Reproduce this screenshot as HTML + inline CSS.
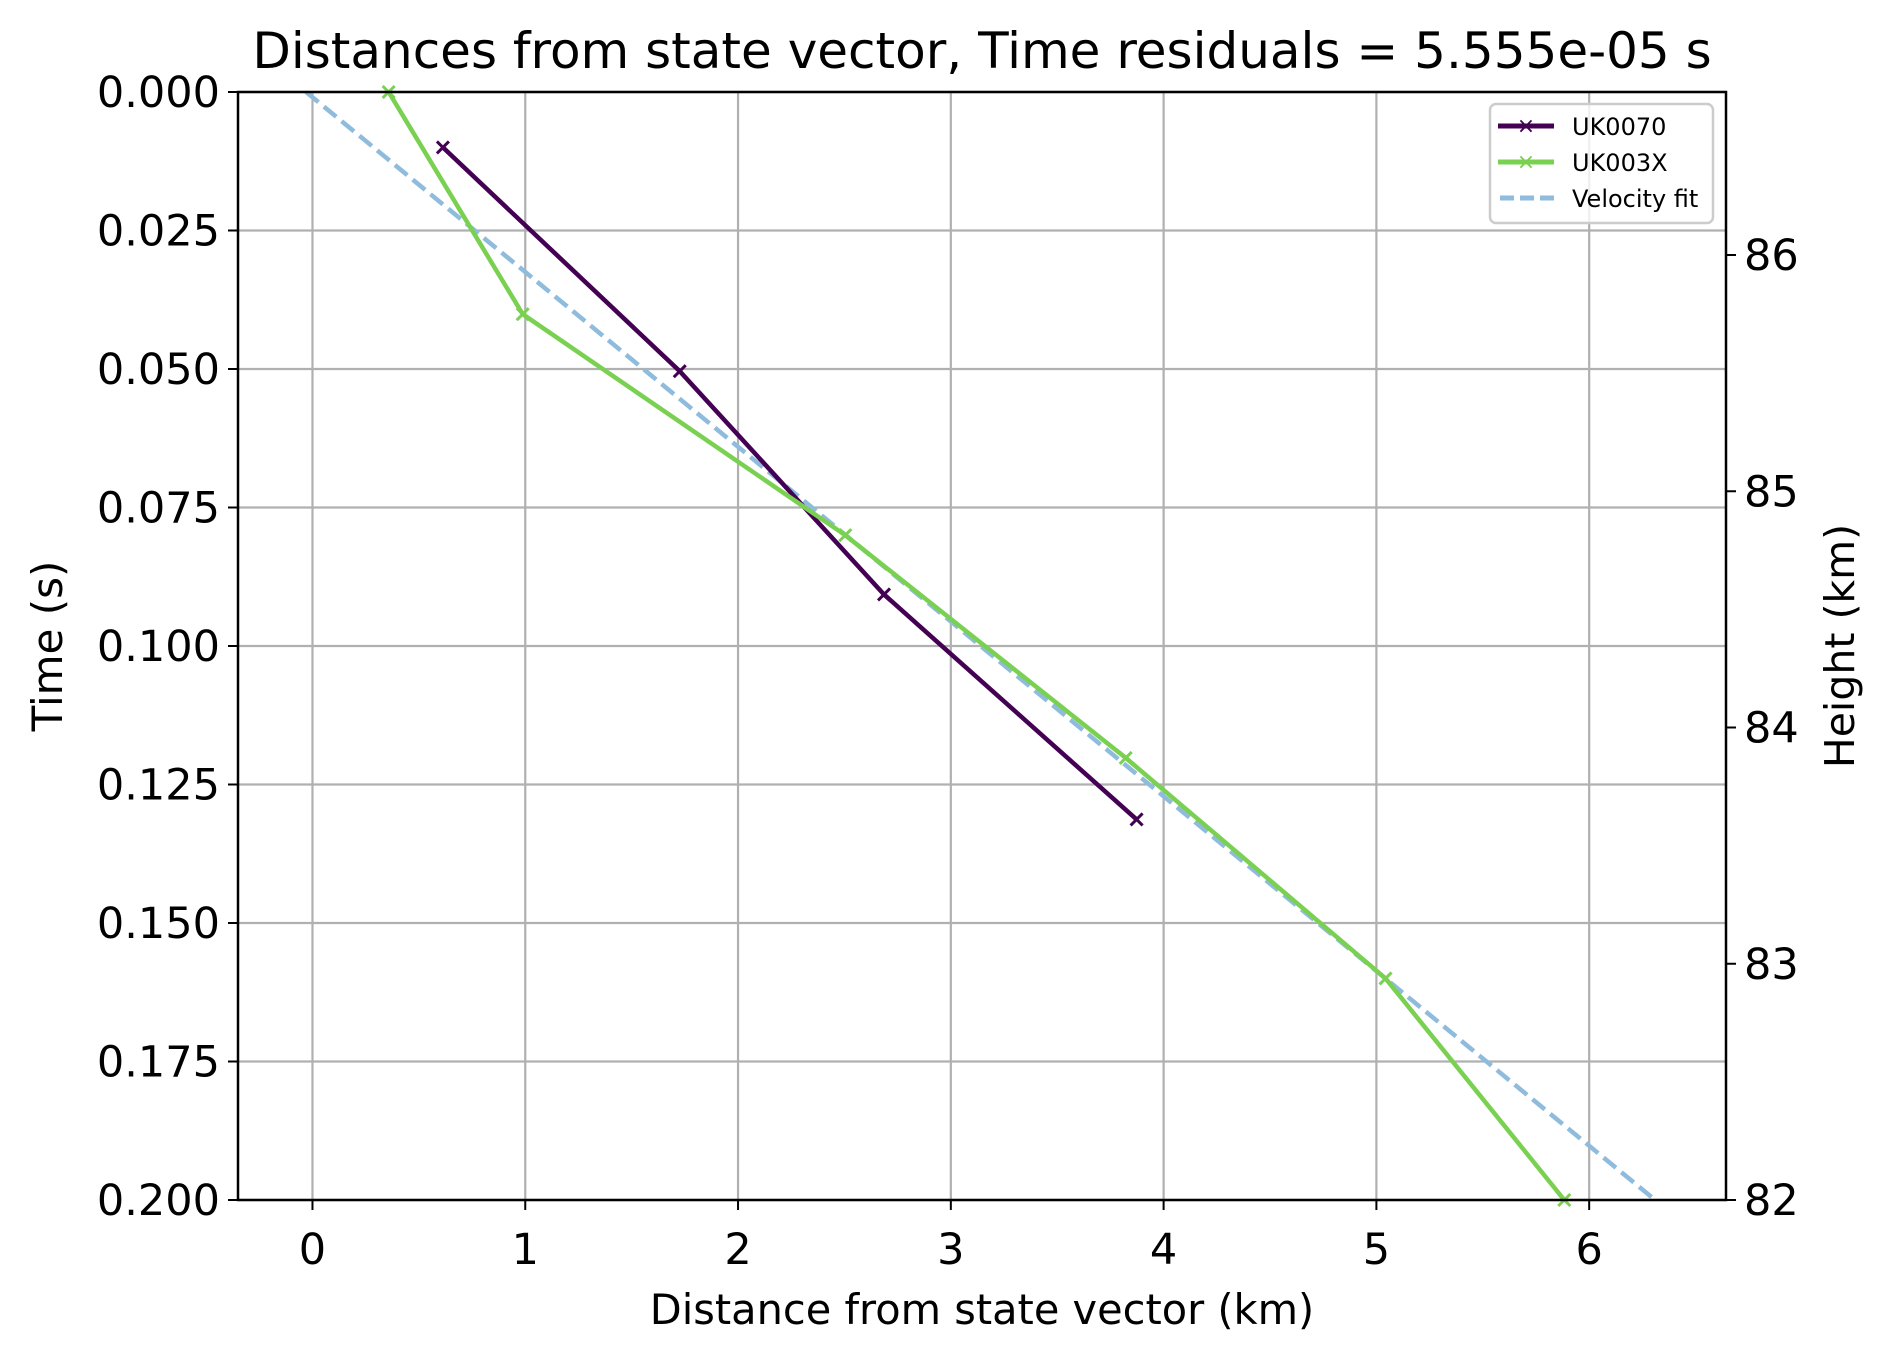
<!DOCTYPE html>
<html><head><meta charset="utf-8"><style>
body{margin:0;background:#fff}
svg text{font-family:"DejaVu Sans","Liberation Sans",sans-serif;fill:#000}
</style></head><body>
<svg id="chart" width="1896" height="1361" viewBox="0 0 1896 1361" xmlns="http://www.w3.org/2000/svg">
<rect width="1896" height="1361" fill="#fff"/>
<g id="grid"></g>
<g id="series"></g>
<g id="axes"></g>
<text x="982" y="68" font-size="50" text-anchor="middle">Distances from state vector, Time residuals = 5.555e-05 s</text>
<text x="982" y="1324" font-size="41.5" text-anchor="middle">Distance from state vector (km)</text>
<text transform="translate(62,646) rotate(-90)" font-size="42" text-anchor="middle">Time (s)</text>
<text transform="translate(1854,646) rotate(-90)" font-size="41" text-anchor="middle">Height (km)</text>
<g>
<rect x="1490" y="104" width="223" height="119" rx="6" fill="#fff" fill-opacity="0.8" stroke="#ccc" stroke-width="2.5"/>
<line x1="1498" y1="126" x2="1554" y2="126" stroke="#440154" stroke-width="5"/>
<text x="1526" y="133" font-size="22" text-anchor="middle" style="fill:#440154">×</text>
<text x="1572" y="135" font-size="24">UK0070</text>
<line x1="1498" y1="162" x2="1554" y2="162" stroke="#7ad151" stroke-width="5"/>
<text x="1526" y="169" font-size="22" text-anchor="middle" style="fill:#7ad151">×</text>
<text x="1572" y="171" font-size="24">UK003X</text>
<line x1="1500" y1="198" x2="1554" y2="198" stroke="#8fbbdd" stroke-width="5" stroke-dasharray="14,6"/>
<text x="1572" y="207" font-size="24">Velocity fit</text>
</g>
</svg>
<script>
const xTicks=[0,1,2,3,4,5,6];
const yTicks=[0,0.025,0.05,0.075,0.1,0.125,0.15,0.175,0.2];
const yTickLabels=["0.000","0.025","0.050","0.075","0.100","0.125","0.150","0.175","0.200"];
const hTicks=[82,83,84,85,86];
const uk0070Dist=[0.613,1.726,2.686,3.873];
const uk0070Time=[0.0100,0.0504,0.0907,0.1313];
const uk003xDist=[0.358,0.988,2.504,3.822,5.043,5.883];
const uk003xTime=[0.0,0.0401,0.080,0.1202,0.160,0.2];
const fitDist=[-0.03,6.31];
const fitTime=[0.0,0.2];
const L=238,R=1726,T=92,B=1200,XMIN=-0.35,XMAX=6.643,HMAX=86.69,HMIN=82;
const sx=v=>L+(v-XMIN)/(XMAX-XMIN)*(R-L);
const sy=t=>T+t/0.2*(B-T);
const sh=h=>T+(HMAX-h)/(HMAX-HMIN)*(B-T);
const NS="http://www.w3.org/2000/svg";
function mk(tag,attrs,parent){const e=document.createElementNS(NS,tag);for(const k in attrs)e.setAttribute(k,attrs[k]);parent.appendChild(e);return e;}
const grid=document.getElementById('grid'),axes=document.getElementById('axes'),ser=document.getElementById('series');
xTicks.forEach(v=>{
 const g=mk('line',{x1:sx(v),x2:sx(v),y1:T,y2:B,stroke:'#b0b0b0','stroke-width':2.2},grid);
 
 
 mk('line',{x1:sx(v),x2:sx(v),y1:B,y2:B+10,stroke:'#000','stroke-width':2},axes);
 const t=mk('text',{x:sx(v),y:B+64,'font-size':43,'text-anchor':'middle'},axes);t.textContent=v;
 
 
});
yTicks.forEach((v,i)=>{
 const g=mk('line',{x1:L,x2:R,y1:sy(v),y2:sy(v),stroke:'#b0b0b0','stroke-width':2.2},grid);
 
 
 mk('line',{x1:L-10,x2:L,y1:sy(v),y2:sy(v),stroke:'#000','stroke-width':2},axes);
 const t=mk('text',{x:L-18,y:sy(v)+15,'font-size':43,'text-anchor':'end'},axes);t.textContent=yTickLabels[i];
 
 
});
hTicks.forEach(v=>{
 mk('line',{x1:R,x2:R+10,y1:sh(v),y2:sh(v),stroke:'#000','stroke-width':2},axes);
 const t=mk('text',{x:R+18,y:sh(v)+15,'font-size':43},axes);t.textContent=v;
 
 
});
const frame=mk('rect',{x:L,y:T,width:R-L,height:B-T,fill:'none',stroke:'#000','stroke-width':2.5},axes);


function series(d,t,color,name,dash,markers){
 const p=d.map((v,i)=>sx(v)+','+sy(t[i])).join(' ');
 const pl=mk('polyline',{points:p,fill:'none',stroke:color,'stroke-width':4.5,'stroke-dasharray':dash||'none'},ser);
 
 
 if(markers)d.forEach((v,i)=>{
  const x=sx(v),y=sy(t[i]),s=6;
  const m=mk('path',{d:`M${x-s},${y-s}L${x+s},${y+s}M${x-s},${y+s}L${x+s},${y-s}`,stroke:color,'stroke-width':3},ser);
  
  
 });
}
series(fitDist,fitTime,'#8fbbdd','velocity-fit-line','16,7',false);
series(uk0070Dist,uk0070Time,'#440154','uk0070-line',null,true);
series(uk003xDist,uk003xTime,'#7ad151','uk003x-line',null,true);
</script>
</body></html>
